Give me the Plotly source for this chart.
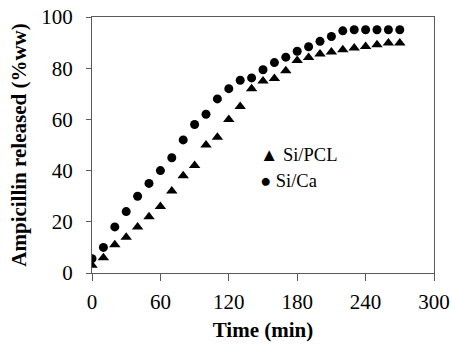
import plotly.graph_objects as go

# Sampling times (min)
time_min = [0, 10, 20, 30, 40, 50, 60, 70, 80, 90, 100, 110, 120, 130,
            140, 150, 160, 170, 180, 190, 200, 210, 220, 230, 240, 250, 260, 270]

# Cumulative ampicillin release (%ww)
si_pcl = [3.0, 6.0, 11.0, 14.0, 18.0, 22.0, 26.0, 32.0, 38.0, 42.0, 50.0, 53.0, 60.0, 65.0,
          72.0, 75.0, 76.0, 79.0, 83.0, 84.2, 85.5, 86.3, 87.2, 87.9, 88.5, 89.2, 89.8, 89.8]
si_ca = [5.6, 10.0, 18.0, 24.0, 30.0, 35.0, 40.0, 45.0, 52.0, 58.0, 62.0, 68.0, 72.0, 75.3,
         76.2, 79.4, 82.2, 84.3, 86.6, 88.4, 90.5, 92.4, 94.6, 95.0, 95.0, 95.0, 95.0, 95.0]

x_ticks = [0, 60, 120, 180, 240, 300]
y_ticks = [0, 20, 40, 60, 80, 100]

FONT = "Liberation Serif, Times New Roman, serif"
AXIS_COLOR = "#5a5a5a"

fig = go.Figure()
fig.add_trace(go.Scatter(x=time_min, y=si_pcl, mode="markers", name="Si/PCL",
                         marker=dict(symbol="triangle-up", size=10, color="black"),
                         showlegend=False))
fig.add_trace(go.Scatter(x=time_min, y=si_ca, mode="markers", name="Si/Ca",
                         marker=dict(symbol="circle", size=9, color="black"),
                         showlegend=False))

# In-plot key
fig.add_annotation(x=0.486, y=0.461, xref="paper", yref="paper", xanchor="left",
                   showarrow=False, text="▲ Si/PCL",
                   font=dict(family=FONT, size=18.5, color="black"))
fig.add_annotation(x=0.486, y=0.359, xref="paper", yref="paper", xanchor="left",
                   showarrow=False, text="● Si/Ca",
                   font=dict(family=FONT, size=18.5, color="black"))

fig.update_layout(
    width=452, height=345,
    margin=dict(l=92, r=18, t=17, b=72),
    plot_bgcolor="white", paper_bgcolor="white",
    font=dict(family=FONT, color="black"),
)
fig.update_xaxes(
    range=[0, 300], tickvals=x_ticks, ticks="outside", ticklen=7, tickwidth=1,
    tickcolor=AXIS_COLOR, showline=True, linecolor=AXIS_COLOR, linewidth=1.3,
    mirror=True, showgrid=False, zeroline=False, ticklabelstandoff=3, automargin=False,
    tickfont=dict(family=FONT, size=21, color="black"),
    title=dict(text="<b>Time (min)</b>", font=dict(family=FONT, size=21, color="black"),
               standoff=8),
)
fig.update_yaxes(
    range=[0, 100], tickvals=y_ticks, ticks="outside", ticklen=5, tickwidth=1,
    tickcolor=AXIS_COLOR, showline=True, linecolor=AXIS_COLOR, linewidth=1.3,
    mirror=True, showgrid=False, zeroline=False, ticklabelstandoff=9, automargin=False,
    tickfont=dict(family=FONT, size=21, color="black"),
    title=dict(text="<b>Ampicillin released (%ww)</b>",
               font=dict(family=FONT, size=21, color="black"), standoff=8),
)

fig.write_html("out.html")
